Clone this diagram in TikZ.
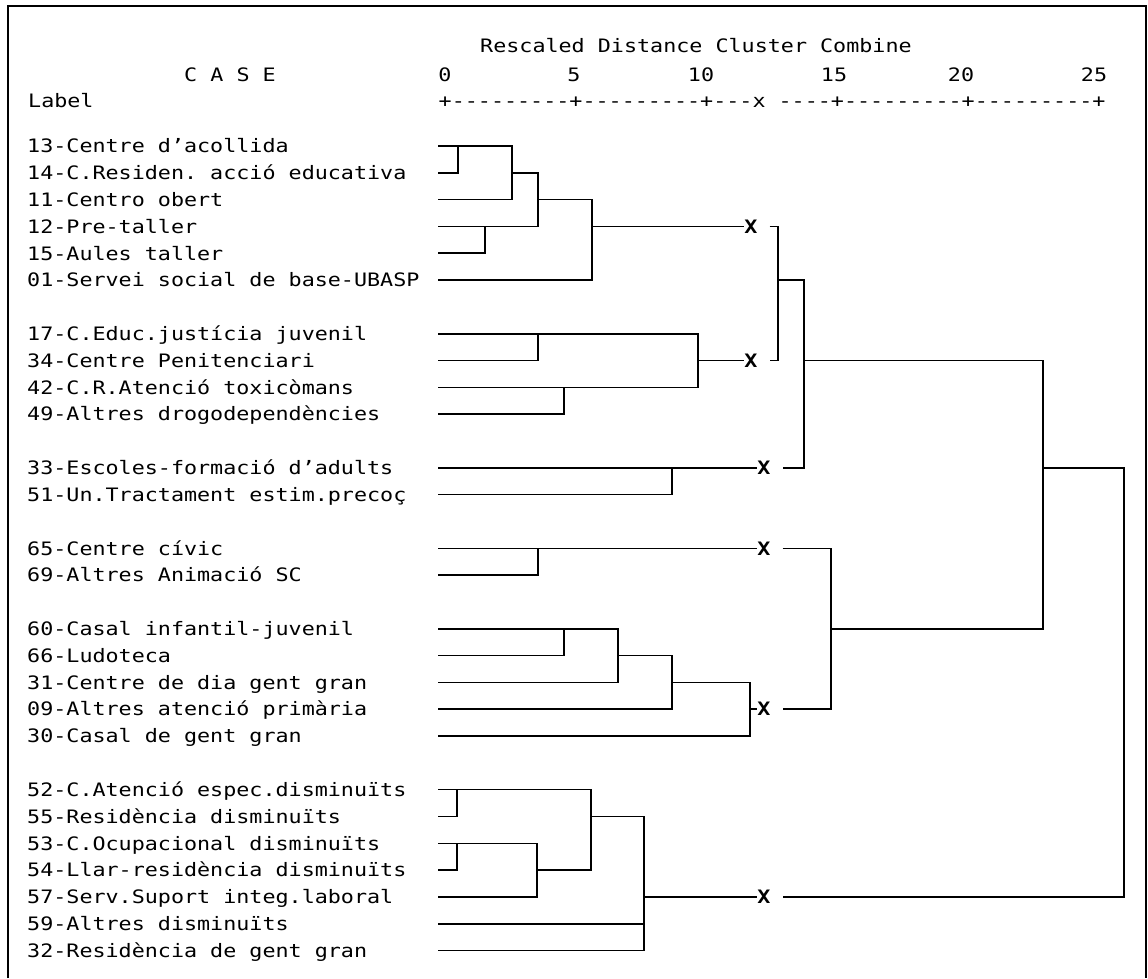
\documentclass[tikz,border=0pt]{standalone}
\usepackage{fontspec}
\setmonofont[FakeStretch=1.174]{DejaVu Sans Mono}
\newcommand\brk[5]{\draw[dl] (#1,0 |- r#2) -- (#3,0 |- r#2) -- (#3,0 |- r#4) -- (#5,0 |- r#4);}
\newcommand\hln[3]{\draw[dl] (#1,0 |- r#2) -- (#3,0 |- r#2);}
\begin{document}
\begin{tikzpicture}[x=1pt,y=-1pt,
  txt/.style={inner sep=0pt, text height=13.5pt, text depth=0pt, font=\ttfamily\fontsize{18.5}{20}\selectfont},
  xmk/.style={inner sep=0pt, text height=13.5pt, text depth=0pt, font=\ttfamily\bfseries\fontsize{18.5}{20}\selectfont},
  dl/.style={line width=1.6pt, line join=miter},
  frm/.style={line width=2.6pt}]
\useasboundingbox (0,0) rectangle (1148,978);
\foreach \k in {0,...,30} \coordinate (r\k) at (0,{146+26.82*\k});
% frame
\draw[frm] (8,978) -- (8,6) -- (1146,6) -- (1146,978);
% header
\node[txt,anchor=west] (title) at (480,46) {Rescaled Distance Cluster Combine};
\node[txt,anchor=west] (case) at (184,75) {C A S E};
\node[txt] (n0) at (445,75) {0};
\node[txt] (n5) at (574,75) {5};
\node[txt] (n10) at (701,75) {10};
\node[txt] (n15) at (834,75) {15};
\node[txt] (n20) at (961,75) {20};
\node[txt] (n25) at (1094,75) {25};
\node[txt,anchor=west] (lab) at (28,101) {Label};
\node[txt,anchor=west] (axis) at (438.5,101) {+---------+---------+---x ----+---------+---------+};
% labels
\node[txt,anchor=west] (c13) at (27,0 |- r0) {13-Centre d’acollida};
\node[txt,anchor=west] (c14) at (27,0 |- r1) {14-C.Residen. acció educativa};
\node[txt,anchor=west] (c11) at (27,0 |- r2) {11-Centro obert};
\node[txt,anchor=west] (c12) at (27,0 |- r3) {12-Pre-taller};
\node[txt,anchor=west] (c15) at (27,0 |- r4) {15-Aules taller};
\node[txt,anchor=west] (c01) at (27,0 |- r5) {01-Servei social de base-UBASP};
\node[txt,anchor=west] (c17) at (27,0 |- r7) {17-C.Educ.justícia juvenil};
\node[txt,anchor=west] (c34) at (27,0 |- r8) {34-Centre Penitenciari};
\node[txt,anchor=west] (c42) at (27,0 |- r9) {42-C.R.Atenció toxicòmans};
\node[txt,anchor=west] (c49) at (27,0 |- r10) {49-Altres drogodependències};
\node[txt,anchor=west] (c33) at (27,0 |- r12) {33-Escoles-formació d’adults};
\node[txt,anchor=west] (c51) at (27,0 |- r13) {51-Un.Tractament estim.precoç};
\node[txt,anchor=west] (c65) at (27,0 |- r15) {65-Centre cívic};
\node[txt,anchor=west] (c69) at (27,0 |- r16) {69-Altres Animació SC};
\node[txt,anchor=west] (c60) at (27,0 |- r18) {60-Casal infantil-juvenil};
\node[txt,anchor=west] (c66) at (27,0 |- r19) {66-Ludoteca};
\node[txt,anchor=west] (c31) at (27,0 |- r20) {31-Centre de dia gent gran};
\node[txt,anchor=west] (c09) at (27,0 |- r21) {09-Altres atenció primària};
\node[txt,anchor=west] (c30) at (27,0 |- r22) {30-Casal de gent gran};
\node[txt,anchor=west] (c52) at (27,0 |- r24) {52-C.Atenció espec.disminuïts};
\node[txt,anchor=west] (c55) at (27,0 |- r25) {55-Residència disminuïts};
\node[txt,anchor=west] (c53) at (27,0 |- r26) {53-C.Ocupacional disminuïts};
\node[txt,anchor=west] (c54) at (27,0 |- r27) {54-Llar-residència disminuïts};
\node[txt,anchor=west] (c57) at (27,0 |- r28) {57-Serv.Suport integ.laboral};
\node[txt,anchor=west] (c59) at (27,0 |- r29) {59-Altres disminuïts};
\node[txt,anchor=west] (c32) at (27,0 |- r30) {32-Residència de gent gran};
% cluster marks
\node[xmk] (x1) at (751,0 |- r3) {X};
\node[xmk] (x2) at (751,0 |- r8) {X};
\node[xmk] (x3) at (764,0 |- r12) {X};
\node[xmk] (x4) at (764,0 |- r15) {X};
\node[xmk] (x5) at (764,0 |- r21) {X};
\node[xmk] (x6) at (764,0 |- r28) {X};
% group 1
\brk{438}{0}{458}{1}{438}
\brk{458}{0}{512}{2}{438}
\brk{438}{3}{485}{4}{438}
\brk{512}{1}{538}{3}{485}
\brk{538}{2}{592}{5}{438}
\draw[dl] (592,0 |- r3) -- (x1.west);
% group 2
\brk{438}{7}{538}{8}{438}
\brk{438}{9}{564}{10}{438}
\brk{538}{7}{698}{9}{564}
\draw[dl] (698,0 |- r8) -- (x2.west);
% group 3
\brk{438}{12}{672}{13}{438}
\draw[dl] (672,0 |- r12) -- (x3.west);
% group 4
\brk{438}{15}{538}{16}{438}
\draw[dl] (538,0 |- r15) -- (x4.west);
% group 5
\brk{438}{18}{564}{19}{438}
\brk{564}{18}{618}{20}{438}
\brk{618}{19}{672}{21}{438}
\brk{672}{20}{750}{22}{438}
\draw[dl] (750,0 |- r21) -- (x5.west);
% group 6
\brk{438}{24}{457}{25}{438}
\brk{438}{26}{457}{27}{438}
\brk{457}{26}{537}{28}{438}
\brk{457}{24}{591}{27}{537}
\brk{591}{25}{644}{30}{438}
\hln{438}{29}{644}
\draw[dl] (644,0 |- r28) -- (x6.west);
% upper levels
\draw[dl] ([xshift=12pt]x1.east) -- (778,0 |- r3) -- (778,0 |- r8) -- ([xshift=12pt]x2.east);
\draw[dl] (778,0 |- r5) -- (804,0 |- r5) -- (804,0 |- r12) -- ([xshift=12pt]x3.east);
\draw[dl] ([xshift=12pt]x4.east) -- (831,0 |- r15) -- (831,0 |- r21) -- ([xshift=12pt]x5.east);
\draw[dl] (804,0 |- r8) -- (1043,0 |- r8) -- (1043,0 |- r18) -- (831,0 |- r18);
\draw[dl] (1043,0 |- r12) -- (1124,0 |- r12) -- (1124,0 |- r28) -- ([xshift=12pt]x6.east);
\end{tikzpicture}
\end{document}
